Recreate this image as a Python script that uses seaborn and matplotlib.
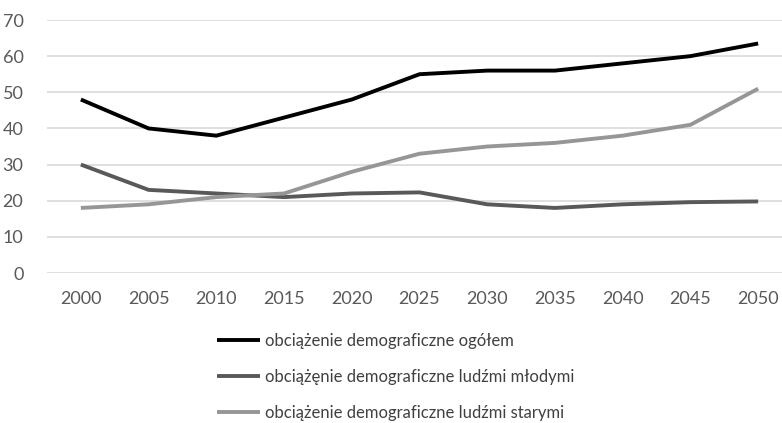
import matplotlib
matplotlib.use("Agg")
import matplotlib.pyplot as plt
import seaborn as sns
import pandas as pd

years = ["2000", "2005", "2010", "2015", "2020", "2025", "2030", "2035", "2040", "2045", "2050"]
total = [48, 40, 38, 43, 48, 55, 56, 56, 58, 60, 63.5]
young = [30, 23, 22, 21, 22, 22.3, 19, 18, 19, 19.6, 19.8]
old = [18, 19, 21, 22, 28, 33, 35, 36, 38, 41, 51]
labels = ["obciążenie demograficzne ogółem",
          "obciążęnie demograficzne ludźmi młodymi",
          "obciążenie demograficzne ludźmi starymi"]
colors = ["#000000", "#595959", "#969696"]

rows = []
for lab, vals in zip(labels, [total, young, old]):
    for i, (y, v) in enumerate(zip(years, vals)):
        rows.append({"idx": i, "year": y, "value": v, "series": lab})
df = pd.DataFrame(rows)

sns.set_theme(style="white")
plt.rcParams["font.family"] = ["Lato", "DejaVu Sans"]

W, H = 782, 423
fig = plt.figure(figsize=(W / 100, H / 100), dpi=100)
left, right = 47 / W, 792 / W
top, bottom = 1 - 20 / H, 1 - 273 / H
ax = fig.add_axes([left, bottom, right - left, top - bottom])

sns.lineplot(data=df, x="idx", y="value", hue="series", palette=dict(zip(labels, colors)),
             linewidth=2.8, ax=ax, legend=True)

ax.set_xlim(-0.5, len(years) - 0.5)
ax.set_ylim(0, 70)
ax.set_yticks(range(0, 71, 10))
ax.set_xticks(range(len(years)))
ax.set_xticklabels(years)
ax.yaxis.grid(True, color="#d9d9d9", linewidth=1.2)
ax.xaxis.grid(False)
for s in ax.spines.values():
    s.set_visible(False)
ax.tick_params(axis="both", length=0, labelsize=13, labelcolor="#595959")
ax.tick_params(axis="y", pad=17)
ax.tick_params(axis="x", pad=13)
ax.set_xlabel("")
ax.set_ylabel("")
for line in ax.get_lines():
    line.set_solid_capstyle("butt")
    line.set_solid_joinstyle("miter")

handles, labs = ax.get_legend_handles_labels()
ax.get_legend().remove()
leg = fig.legend(handles, labs, loc="upper left", bbox_to_anchor=(217 / W, 1 - 333 / H),
                 frameon=False, fontsize=12, handlelength=2.6, handletextpad=0.3,
                 labelspacing=1.2, borderaxespad=0, borderpad=0)
for t in leg.get_texts():
    t.set_color("#404040")

fig.savefig("out.png", dpi=100)
